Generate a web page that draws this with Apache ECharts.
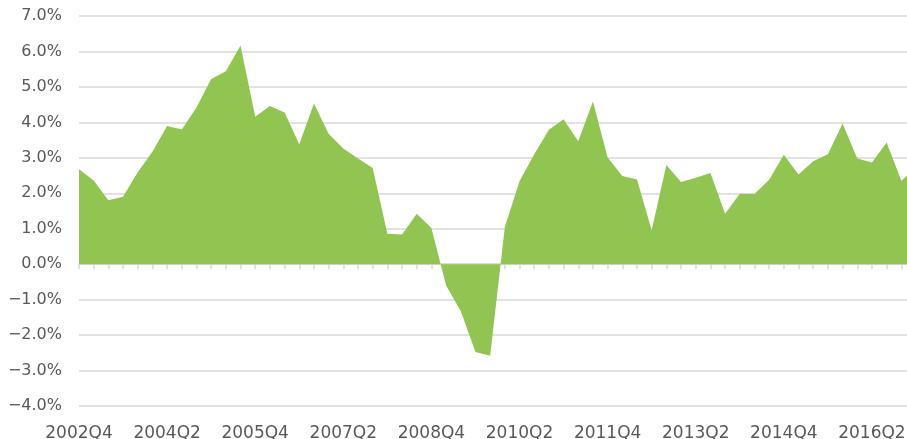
<!DOCTYPE html>
<html>
<head>
<meta charset="utf-8">
<script src="https://cdn.jsdelivr.net/npm/echarts@6/dist/echarts.min.js"></script>
<style>
  html, body { margin: 0; padding: 0; background: #fff; }
  #chart { width: 907px; height: 439px; }
</style>
</head>
<body>
<div id="chart"></div>
<script>
// quarters, 2002Q4 .. 2017Q1 (last one is cut off at the right edge)
const quarters = [
  '2002Q4',
  '2003Q1', '2003Q2', '2003Q3', '2003Q4',
  '2004Q1', '2004Q2', '2004Q3', '2004Q4',
  '2005Q1', '2005Q2', '2005Q3', '2005Q4',
  '2006Q1', '2006Q2', '2006Q3', '2006Q4',
  '2007Q1', '2007Q2', '2007Q3', '2007Q4',
  '2008Q1', '2008Q2', '2008Q3', '2008Q4',
  '2009Q1', '2009Q2', '2009Q3', '2009Q4',
  '2010Q1', '2010Q2', '2010Q3', '2010Q4',
  '2011Q1', '2011Q2', '2011Q3', '2011Q4',
  '2012Q1', '2012Q2', '2012Q3', '2012Q4',
  '2013Q1', '2013Q2', '2013Q3', '2013Q4',
  '2014Q1', '2014Q2', '2014Q3', '2014Q4',
  '2015Q1', '2015Q2', '2015Q3', '2015Q4',
  '2016Q1', '2016Q2', '2016Q3', '2016Q4',
  '2017Q1'
]

// growth rate, %
const growth = [
  2.68, 2.36, 1.80, 1.90, 2.59, 3.17, 3.90, 3.80, 4.42, 5.22,
  5.44, 6.17, 4.16, 4.46, 4.28, 3.38, 4.53, 3.68, 3.26, 2.98,
  2.71, 0.86, 0.84, 1.42, 1.02, -0.60, -1.33, -2.48, -2.58, 1.05,
  2.34, 3.10, 3.79, 4.09, 3.47, 4.59, 3.01, 2.49, 2.39, 0.96,
  2.80, 2.32, 2.44, 2.57, 1.42, 1.99, 1.98, 2.38, 3.09, 2.53,
  2.90, 3.10, 3.97, 2.98, 2.87, 3.43, 2.35, 2.72
]

const yMin = -4
const yMax = 7
const yStep = 1

const textColor = '#595959'
const gridColor = '#d9d9d9'
const fontFamily = '"DejaVu Sans", Verdana, sans-serif'

const chart = echarts.init(document.getElementById('chart'), null, { renderer: 'canvas' })

chart.setOption({
  animation: false,
  backgroundColor: '#fff',
  grid: {
    left: 79,
    right: -9,
    top: 16,
    bottom: 33,
    containLabel: false,
    outerBoundsMode: 'none'
  },
  xAxis: [
    {
      // axis line + ticks sitting on 0%
      type: 'category',
      data: quarters,
      boundaryGap: false,
      position: 'bottom',
      axisLine: { show: true, onZero: true, lineStyle: { color: gridColor, width: 1.5 } },
      axisTick: { show: true, interval: 0, length: 5, lineStyle: { color: gridColor, width: 1.5 } },
      axisLabel: { show: false },
      splitLine: { show: false }
    },
    {
      // labels along the bottom
      type: 'category',
      data: quarters,
      boundaryGap: false,
      position: 'bottom',
      axisLine: { show: false, onZero: false },
      axisTick: { show: false },
      axisLabel: {
        show: true,
        interval: 5,
        margin: 19,
        color: textColor,
        fontSize: 17,
        fontFamily: fontFamily,
        hideOverlap: false
      },
      splitLine: { show: false }
    }
  ],
  yAxis: {
    type: 'value',
    min: yMin,
    max: yMax,
    interval: yStep,
    axisLine: { show: false },
    axisTick: { show: false },
    axisLabel: {
      margin: 17,
      color: textColor,
      fontSize: 16,
      fontFamily: fontFamily,
      formatter: v => (v < 0 ? '\u2212' : '') + Math.abs(v).toFixed(1) + '%'
    },
    splitLine: { show: true, lineStyle: { color: gridColor, width: 1.5 } }
  },
  series: [
    {
      type: 'line',
      xAxisIndex: 0,
      data: growth,
      showSymbol: false,
      symbol: 'none',
      lineStyle: { width: 0 },
      areaStyle: { color: '#92c452', opacity: 1, origin: 0 },
      z: 1
    }
  ]
})
</script>
</body>
</html>
